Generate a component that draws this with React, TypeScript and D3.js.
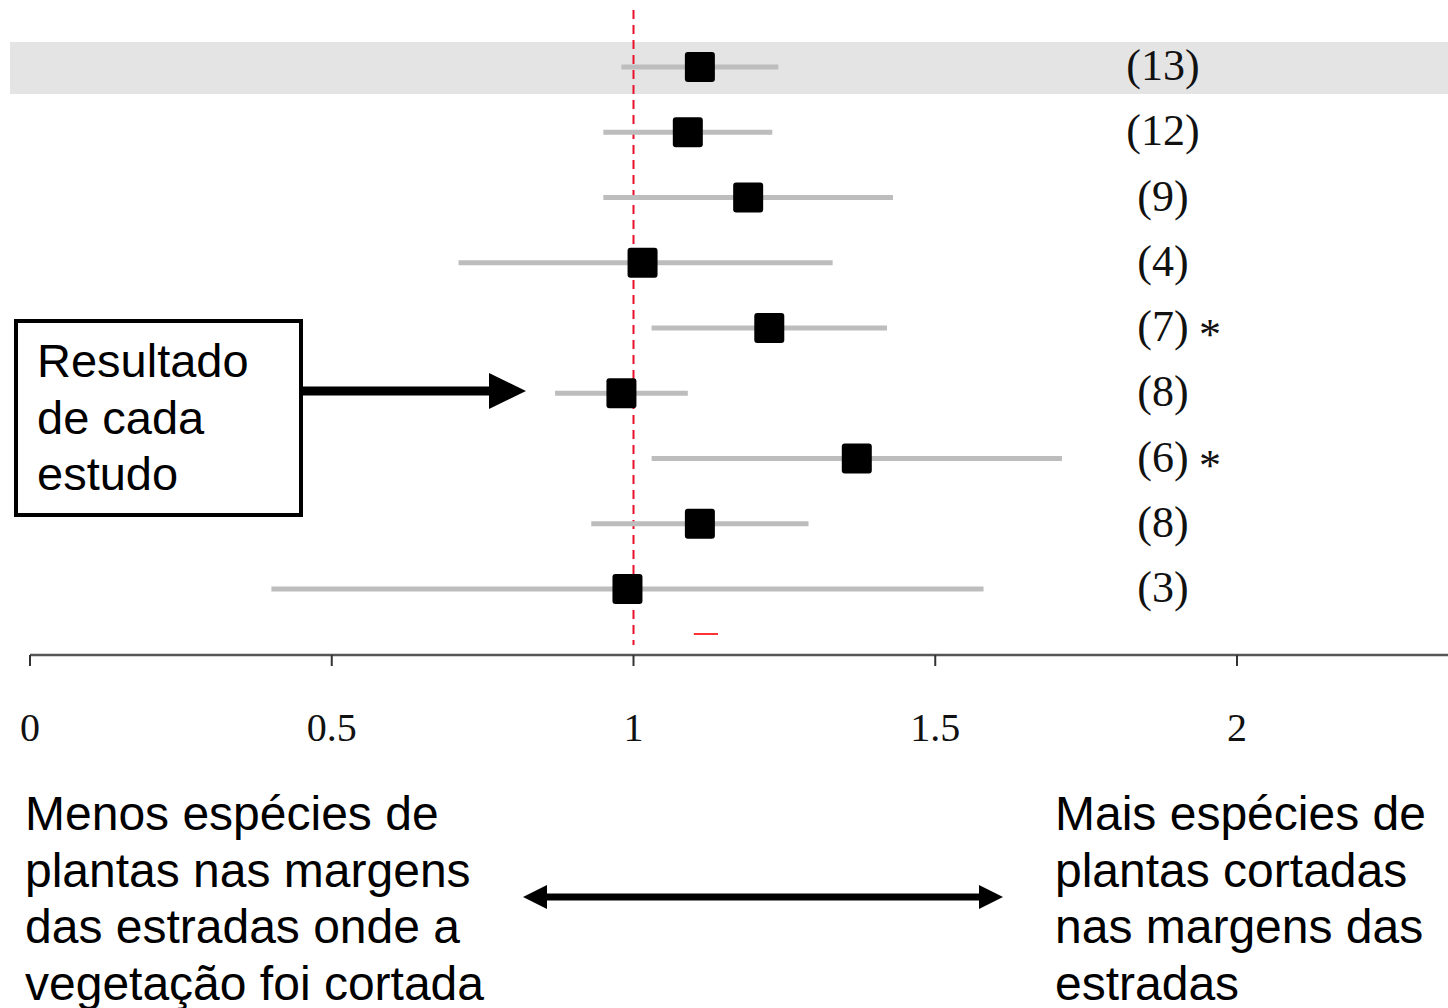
import React from 'react';
import * as d3 from 'd3';

// estudos (de cima para baixo)
const labels = ['(13)', '(12)', '(9)', '(4)', '(7)', '(8)', '(6)', '(8)', '(3)'];
const significant = [false, false, false, false, true, false, true, false, false];
const estimates = [1.11, 1.09, 1.19, 1.015, 1.225, 0.98, 1.37, 1.11, 0.99];
const lower = [0.98, 0.95, 0.95, 0.71, 1.03, 0.87, 1.03, 0.93, 0.40];
const upper = [1.24, 1.23, 1.43, 1.33, 1.42, 1.09, 1.71, 1.29, 1.58];
const ticks = [0, 0.5, 1, 1.5, 2];
const tickLabels = ['0', '0.5', '1', '1.5', '2'];

const boxLines = ['Resultado', 'de cada', 'estudo'];
const leftNote = ['Menos espécies de', 'plantas nas margens', 'das estradas onde a', 'vegetação foi cortada'];
const rightNote = ['Mais espécies de', 'plantas cortadas', 'nas margens das', 'estradas'];

const W = 1448;
const H = 1008;

export default function App() {
  const x = d3.scaleLinear().domain([0, 2]).range([30, 1237]);
  const y = d3.scalePoint<number>().domain(d3.range(labels.length)).range([67, 589]);
  const axisY = 655;
  const serif = '"Liberation Serif", "Times New Roman", serif';
  const sans = '"Liberation Sans", Arial, sans-serif';
  const sq = 30;

  return (
    <svg width={W} height={H} style={{ position: 'absolute', left: 0, top: 0, background: '#fff' }}>
      {/* faixa cinza do primeiro estudo */}
      <rect x={10} y={y(0)! - 25} width={W - 10} height={52} fill="#e5e4e5" />

      {/* linha de referência em 1 */}
      <line x1={x(1)} x2={x(1)} y1={10} y2={645} stroke="#e8102a" strokeWidth={2} strokeDasharray="9,6" />
      <line x1={x(1.1)} x2={x(1.14)} y1={634} y2={634} stroke="#f33" strokeWidth={2} />

      {labels.map((lab, i) => {
        const cy = y(i)!;
        return (
          <g key={i}>
            <line x1={x(lower[i])} x2={x(upper[i])} y1={cy} y2={cy} stroke="#bdbdbd" strokeWidth={5} />
            <rect x={x(estimates[i]) - sq / 2} y={cy - sq / 2} width={sq} height={sq} rx={3} fill="#000" />
            <text x={1163} y={cy + 13} textAnchor="middle" fontFamily={serif} fontSize={44} fill="#111">{lab}</text>
            {significant[i] && (
              <text x={1199} y={cy + 21} fontFamily={serif} fontSize={44} fill="#111">*</text>
            )}
          </g>
        );
      })}

      {/* eixo x */}
      <line x1={x(0)} x2={W} y1={axisY} y2={axisY} stroke="#555" strokeWidth={2.5} />
      {ticks.map((t, i) => (
        <g key={t} transform={`translate(${x(t)},0)`}>
          <line y1={axisY} y2={axisY + 11} stroke="#333" strokeWidth={2} />
          <text y={741} textAnchor="middle" fontFamily={serif} fontSize={40} fill="#111">{tickLabels[i]}</text>
        </g>
      ))}

      {/* caixa de anotação */}
      <rect x={16} y={321} width={285} height={194} fill="#fff" stroke="#000" strokeWidth={4} />
      {boxLines.map((s, i) => (
        <text key={i} x={37} y={377 + i * 56.5} fontFamily={sans} fontSize={47} fill="#000">{s}</text>
      ))}
      <line x1={303} x2={492} y1={391} y2={391} stroke="#000" strokeWidth={9} />
      <path d="M489,373 L526,391 L489,409 Z" fill="#000" />

      {/* notas inferiores */}
      {leftNote.map((s, i) => (
        <text key={i} x={25} y={830 + i * 56.5} fontFamily={sans} fontSize={48} fill="#000">{s}</text>
      ))}
      {rightNote.map((s, i) => (
        <text key={i} x={1055} y={830 + i * 56.5} fontFamily={sans} fontSize={48} fill="#000">{s}</text>
      ))}
      <line x1={545} x2={982} y1={897} y2={897} stroke="#000" strokeWidth={7} />
      <path d="M523,897 L547,885 L547,909 Z" fill="#000" />
      <path d="M1003,897 L979,885 L979,909 Z" fill="#000" />
    </svg>
  );
}
